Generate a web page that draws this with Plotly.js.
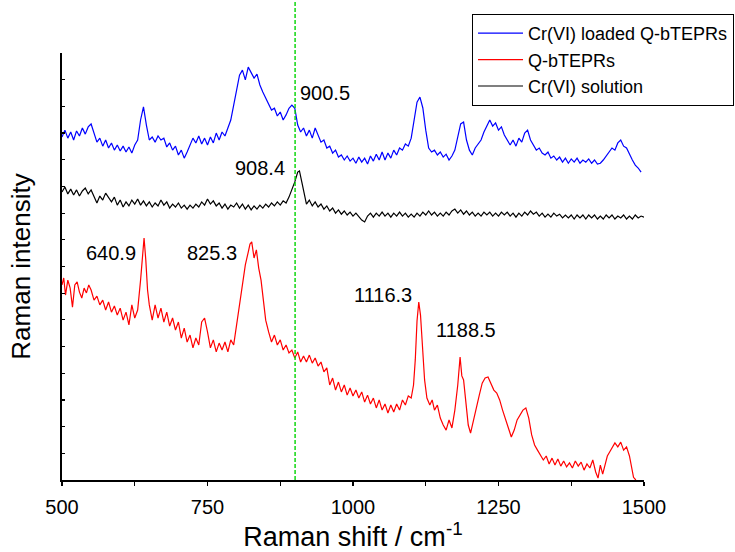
<!DOCTYPE html>
<html>
<head>
<meta charset="utf-8">
<script src="https://cdn.plot.ly/plotly-3.0.1.min.js"></script>
<style>html,body{margin:0;padding:0;background:#fff;}#chart{width:735px;height:552px;}</style>
</head>
<body>
<div id="chart"></div>
<script>
// Cr(VI) loaded Q-bTEPRs (blue)
const blueX = [500,505,510,515,520,525,530,535,540,545,550,555,560,565,570,575,580,585,590,595,600,605,610,615,620,625,630,635,640,645,650,655,660,665,670,675,680,685,690,695,700,705,710,715,720,725,730,735,740,745,750,755,760,765,770,775,780,785,790,795,800,805,810,815,820,825,830,835,840,845,850,855,860,865,870,875,880,885,890,895,900,905,910,915,920,925,930,935,940,945,950,955,960,965,970,975,980,985,990,995,1000,1005,1010,1015,1020,1025,1030,1035,1040,1045,1050,1055,1060,1065,1070,1075,1080,1085,1090,1095,1100,1105,1110,1115,1120,1125,1130,1135,1140,1145,1150,1155,1160,1165,1170,1175,1180,1185,1190,1195,1200,1205,1210,1215,1220,1225,1230,1235,1240,1245,1250,1255,1260,1265,1270,1275,1280,1285,1290,1295,1300,1305,1310,1315,1320,1325,1330,1335,1340,1345,1350,1355,1360,1365,1370,1375,1380,1385,1390,1395,1400,1405,1410,1415,1420,1425,1430,1435,1440,1445,1450,1455,1460,1465,1470,1475,1480,1485,1490,1495];
const blueY = [12.85,13.11,12.81,13.04,12.74,13.08,12.89,13.19,12.96,13.23,13.34,13.00,12.66,12.81,12.51,12.74,12.44,12.63,12.36,12.55,12.33,12.51,12.29,12.48,12.25,12.55,12.74,13.49,13.98,13.30,12.74,12.85,12.66,12.89,12.74,12.81,12.48,12.63,12.36,12.51,12.18,12.36,12.06,12.29,12.55,12.81,12.63,12.89,12.59,12.81,12.55,12.85,12.63,13.00,12.74,13.04,12.89,13.19,13.49,14.05,14.69,15.17,15.36,14.99,15.47,15.29,15.06,15.21,14.80,14.54,14.32,14.05,13.86,13.93,13.64,13.79,13.49,13.68,13.93,14.05,13.93,13.30,13.04,13.19,12.89,13.11,12.81,13.19,12.89,12.66,12.74,12.44,12.51,12.25,12.36,12.10,12.18,11.99,12.14,11.95,12.06,11.87,12.10,11.91,12.06,11.84,12.14,11.95,12.21,11.99,12.29,11.99,12.25,12.06,12.36,12.18,12.44,12.36,12.59,12.51,12.81,13.41,14.16,14.35,13.94,13.11,12.44,12.29,12.36,12.18,12.29,12.10,12.21,11.99,12.14,12.36,12.81,13.34,13.41,12.74,12.36,12.18,12.44,12.59,12.74,13.04,13.30,13.49,13.26,13.38,13.11,13.23,12.93,12.74,12.55,12.74,12.51,12.81,12.66,13.00,13.11,12.74,12.55,12.36,12.44,12.25,12.18,12.29,12.06,12.14,11.99,12.10,11.91,12.06,11.87,12.03,11.91,12.06,11.87,11.99,11.91,12.03,11.87,11.99,11.84,11.87,11.99,12.14,12.29,12.44,12.36,12.63,12.74,12.51,12.44,12.18,11.99,11.80,11.69,11.54];

// Q-bTEPRs (red)
const redX = [500,503,506,510,514,518,522,526,530,534,538,542,546,550,555,560,565,570,575,580,585,590,595,600,605,610,615,620,625,630,635,638,641,644,647,650,655,660,665,670,675,680,685,690,695,700,705,710,715,720,725,730,735,740,745,750,755,760,765,770,775,780,785,790,795,800,805,810,815,820,823,826,830,834,838,842,846,850,855,860,865,870,875,880,885,890,895,900,905,910,915,920,925,930,935,940,945,950,955,960,965,970,975,980,985,990,995,1000,1005,1010,1015,1020,1025,1030,1035,1040,1045,1050,1055,1060,1065,1070,1075,1080,1085,1090,1095,1100,1104,1107,1110,1113,1116,1119,1123,1127,1132,1136,1140,1145,1150,1155,1160,1165,1170,1175,1180,1184,1187,1190,1194,1198,1202,1207,1212,1217,1222,1227,1232,1237,1242,1247,1252,1257,1262,1267,1272,1277,1282,1287,1292,1297,1302,1307,1312,1317,1322,1327,1332,1337,1342,1347,1352,1357,1362,1367,1372,1377,1382,1387,1392,1397,1402,1407,1412,1417,1421,1425,1429,1433,1437,1441,1445,1450,1455,1460,1465,1470,1475,1479,1482,1486];
const redY = [7.31,7.57,6.93,7.49,7.19,6.48,7.31,7.42,7.04,6.82,7.19,7.01,7.31,7.12,6.74,6.89,6.56,6.74,6.37,6.67,6.29,6.52,6.18,6.44,5.99,6.29,5.81,6.56,6.07,6.37,7.49,8.32,9.07,8.24,7.12,6.56,5.99,6.56,6.07,6.44,5.92,6.29,5.77,6.07,5.62,5.92,5.32,5.69,5.17,5.43,4.95,5.32,5.06,5.92,6.07,5.55,4.95,5.25,4.80,5.13,4.87,5.17,4.80,5.25,5.06,5.81,6.56,7.31,8.06,8.54,8.84,8.92,8.32,8.62,7.94,7.49,6.74,5.99,5.55,5.17,5.43,5.06,5.25,4.87,5.06,4.76,4.87,4.57,4.80,4.42,4.65,4.42,4.68,4.38,4.57,4.27,4.42,4.05,4.20,3.56,3.82,3.37,3.67,3.30,3.56,3.18,3.45,3.15,3.37,3.07,3.30,2.92,3.18,2.85,3.07,2.70,3.00,2.62,2.85,2.51,2.81,2.55,2.85,2.62,3.00,2.81,3.15,3.07,3.56,4.50,5.96,6.67,6.18,5.06,3.75,3.07,2.81,3.00,2.62,2.81,2.32,2.06,1.87,2.25,1.95,2.62,3.56,4.61,3.90,3.75,3.00,2.06,1.76,2.25,2.81,3.18,3.63,3.82,3.86,3.63,3.37,3.26,3.00,2.62,2.32,1.95,1.61,1.87,2.25,2.44,2.62,2.70,2.32,1.69,1.31,1.12,0.94,0.75,0.90,0.60,0.82,0.56,0.79,0.52,0.71,0.49,0.64,0.45,0.71,0.52,0.67,0.37,0.60,0.45,0.75,0.30,0.07,0.56,0.22,0.60,0.90,1.05,1.20,1.39,1.24,1.42,1.12,1.24,0.90,0.45,0.10,0.00];

// Cr(VI) solution (black)
const blackX = [500,505,510,515,520,525,530,535,540,545,550,555,560,565,570,575,580,585,590,595,600,605,610,615,620,625,630,635,640,645,650,655,660,665,670,675,680,685,690,695,700,705,710,715,720,725,730,735,740,745,750,755,760,765,770,775,780,785,790,795,800,805,810,815,820,825,830,835,840,845,850,855,860,865,870,875,880,885,890,895,900,905,908,912,916,920,925,930,935,940,945,950,955,960,965,970,975,980,985,990,995,1000,1005,1010,1015,1020,1025,1030,1035,1040,1045,1050,1055,1060,1065,1070,1075,1080,1085,1090,1095,1100,1105,1110,1115,1120,1125,1130,1135,1140,1145,1150,1155,1160,1165,1170,1175,1180,1185,1190,1195,1200,1205,1210,1215,1220,1225,1230,1235,1240,1245,1250,1255,1260,1265,1270,1275,1280,1285,1290,1295,1300,1305,1310,1315,1320,1325,1330,1335,1340,1345,1350,1355,1360,1365,1370,1375,1380,1385,1390,1395,1400,1405,1410,1415,1420,1425,1430,1435,1440,1445,1450,1455,1460,1465,1470,1475,1480,1485,1490,1495,1500];
const blackY = [10.79,10.98,10.72,10.90,10.68,10.87,10.64,10.83,10.94,10.72,10.87,10.60,10.38,10.64,10.49,10.75,10.57,10.42,10.60,10.30,10.49,10.23,10.42,10.27,10.49,10.34,10.53,10.30,10.46,10.27,10.42,10.23,10.38,10.27,10.49,10.30,10.42,10.19,10.34,10.23,10.38,10.19,10.30,10.15,10.30,10.19,10.34,10.23,10.42,10.30,10.53,10.34,10.46,10.27,10.38,10.19,10.34,10.15,10.30,10.23,10.38,10.19,10.34,10.15,10.30,10.12,10.27,10.15,10.30,10.19,10.34,10.23,10.38,10.27,10.42,10.30,10.46,10.38,10.60,10.87,11.17,11.54,11.58,11.17,10.68,10.34,10.49,10.27,10.42,10.23,10.34,10.15,10.27,10.08,10.19,10.00,10.12,9.96,10.08,9.93,10.04,9.89,10.00,9.85,9.74,9.67,9.89,10.00,9.85,10.00,9.89,10.04,9.89,10.00,9.85,10.00,9.89,10.04,9.89,10.00,9.85,9.96,9.85,10.00,9.89,10.04,9.93,10.08,9.93,10.04,9.89,10.00,9.89,10.04,9.93,10.08,10.15,10.00,10.12,9.96,10.08,9.93,10.04,9.89,10.00,9.89,10.04,9.93,10.04,9.89,10.00,9.89,10.04,9.93,10.04,9.89,10.00,9.85,10.00,9.89,10.04,9.93,10.08,9.96,10.04,9.89,10.00,9.85,9.96,9.85,10.00,9.89,9.96,9.82,9.93,9.82,9.93,9.78,9.93,9.82,9.93,9.78,9.93,9.82,9.93,9.78,9.89,9.78,9.93,9.82,9.93,9.78,9.89,9.82,9.93,9.78,9.89,9.78,9.93,9.82,9.89,9.85];

// Peak labels
const peakLabels = ['900.5','908.4','640.9','825.3','1116.3','1188.5'];
const peakLabelX = [905.4, 886.6, 630.6, 804.1, 1104.7, 1139.1];
const peakLabelY = [14.50, 11.69, 8.50, 8.50, 6.93, 5.62];
const peakLabelAnchor = ['left','right','right','right','right','left'];

const markerLineX = 900.5;
const xTicks = [500, 750, 1000, 1250, 1500];

const FONT = 'Arial, "Liberation Sans", sans-serif';

const traces = [
  {x: blueX, y: blueY, type: 'scatter', mode: 'lines', name: 'Cr(VI) loaded Q-bTEPRs',
   line: {color: '#0000ff', width: 1.2}},
  {x: redX, y: redY, type: 'scatter', mode: 'lines', name: 'Q-bTEPRs',
   line: {color: '#ff0000', width: 1.2}},
  {x: blackX, y: blackY, type: 'scatter', mode: 'lines', name: 'Cr(VI) solution',
   line: {color: '#000000', width: 1.2}}
];

const annotations = peakLabels.map((t, i) => ({
  x: peakLabelX[i], y: peakLabelY[i], xref: 'x', yref: 'y', text: t, showarrow: false,
  xanchor: peakLabelAnchor[i], yanchor: 'middle', font: {family: FONT, size: 20, color: '#000'}
}));

const layout = {
  width: 735, height: 552,
  margin: {l: 62, r: 91, t: 53, b: 72, autoexpand: false},
  paper_bgcolor: '#fff', plot_bgcolor: '#fff',
  font: {family: FONT, color: '#000'},
  showlegend: true,
  legend: {
    xref: 'container', yref: 'container', x: 0.6422, y: 0.9746, xanchor: 'left', yanchor: 'top',
    bgcolor: '#fff', bordercolor: '#000', borderwidth: 1, itemwidth: 45,
    font: {family: FONT, size: 18, color: '#000'}, tracegroupgap: 0
  },
  xaxis: {
    range: [500, 1500], tickvals: xTicks, ticktext: xTicks.map(String),
    ticks: 'outside', ticklen: 4, tickwidth: 1.2, tickcolor: '#000',
    minor: {tickvals: [625, 875, 1125, 1375], ticks: 'outside', ticklen: 4, tickwidth: 1.2, tickcolor: '#000'},
    showline: true, linecolor: '#000', linewidth: 1.6, showgrid: false, zeroline: false,
    tickfont: {family: FONT, size: 20, color: '#000'}, ticklabelstandoff: 4,
    automargin: false,
    title: {text: 'Raman shift / cm<sup>-1</sup>', font: {family: FONT, size: 27, color: '#000'}, standoff: 10}
  },
  yaxis: {
    range: [0, 16], dtick: 1, tick0: 0,
    ticks: 'inside', ticklen: 3, tickwidth: 1.2, tickcolor: '#000',
    showticklabels: false, automargin: false,
    showline: true, linecolor: '#000', linewidth: 1.6, showgrid: false, zeroline: false,
    title: {text: 'Raman intensity', font: {family: FONT, size: 26, color: '#000'}, standoff: 22}
  },
  shapes: [{
    type: 'line', xref: 'x', yref: 'paper', x0: markerLineX, x1: markerLineX, y0: 0, y1: 1.124,
    line: {color: '#00d400', width: 1.4, dash: '4px,2px'}
  }],
  annotations: annotations
};

Plotly.newPlot('chart', traces, layout, {displayModeBar: false, staticPlot: true});
</script>
</body>
</html>
